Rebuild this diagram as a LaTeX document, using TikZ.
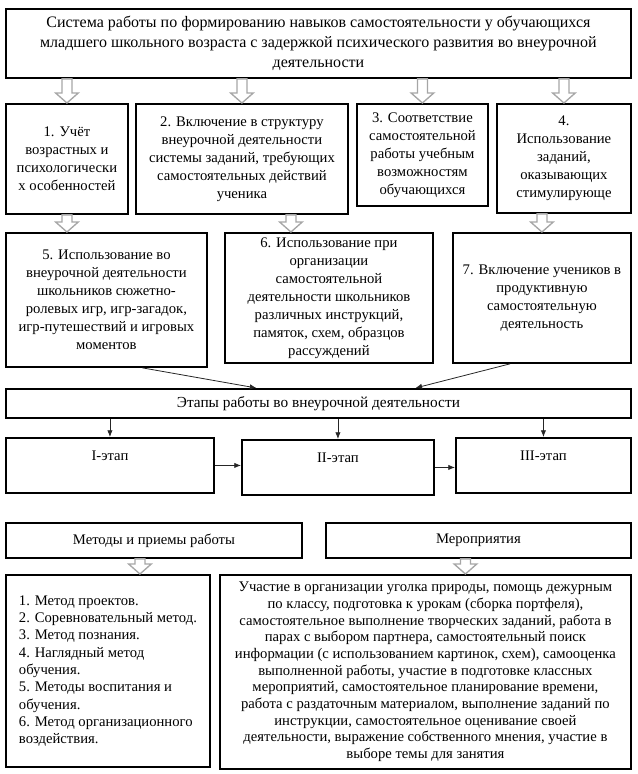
\documentclass[tikz,border=0pt]{standalone}
\usepackage{fontspec}
\setmainfont{Liberation Serif}
\usetikzlibrary{shapes,arrows,arrows.meta,positioning,calc}

\newcommand{\pxu}{0.75pt}
% полая стрелка вниз: #1 -- начало, #2 -- уровень острия
\newcommand{\hollowarrow}[2]{%
  \draw[hollow] let \p1=(#1), \p2=(#2) in
    (\x1-3.75pt,\y1) -- (\x1+3.75pt,\y1) -- (\x1+3.75pt,\y2+7.5pt)
    -- (\x1+8.5pt,\y2+7.5pt) -- (\x1,\y2) -- (\x1-8.5pt,\y2+7.5pt)
    -- (\x1-3.75pt,\y2+7.5pt) -- cycle;}

\begin{document}
\begin{tikzpicture}[x=0.75pt, y=-0.75pt,
    box/.style={draw, line width=1.4pt, anchor=north west, align=center, inner sep=2pt,
      font=\fontsize{11pt}{13.5pt}\selectfont},
    stagebox/.style={box, text height=8pt, text depth=15pt},
    hollow/.style={draw=gray!70, line width=1pt, fill=white},
    thin/.style={-{Latex[length=5pt,width=4pt]}, line width=0.6pt, draw=black!85}]

    \useasboundingbox (0,0) rectangle (638,774);

    % Блоки
    \node[box, minimum width={625*\pxu}, minimum height={69*\pxu},
      font=\fontsize{12pt}{15pt}\selectfont] (top) at (5,8)
      {Система работы по формированию навыков самостоятельности у обучающихся\\
       младшего школьного возраста с задержкой психического развития во внеурочной\\
       деятельности};

    \node[box, minimum width={122*\pxu}, minimum height={110*\pxu}] (b1) at (5,103)
      {1. Учёт\\ возрастных и\\ психологически\\ х особенностей};
    \node[box, minimum width={212*\pxu}, minimum height={110*\pxu}] (b2) at (135,103)
      {2. Включение в структуру\\ внеурочной деятельности\\ системы заданий, требующих\\
       самостоятельных действий\\ ученика};
    \node[box, minimum width={131*\pxu}, minimum height={102*\pxu}] (b3) at (356,103)
      {3. Соответствие\\ самостоятельной\\ работы учебным\\ возможностям\\ обучающихся};
    \node[box, minimum width={134*\pxu}, minimum height={109*\pxu}] (b4) at (496,103)
      {4.\\ Использование\\ заданий,\\ оказывающих\\ стимулирующе};

    \node[box, minimum width={201*\pxu}, minimum height={134*\pxu}] (b5) at (5,232)
      {5. Использование во\\ внеурочной деятельности\\ школьников сюжетно-\\
       ролевых игр, игр-загадок,\\ игр-путешествий и игровых\\ моментов};
    \node[box, minimum width={208*\pxu}, minimum height={130*\pxu}] (b6) at (224,232)
      {6. Использование при\\ организации\\ самостоятельной\\ деятельности школьников\\
       различных инструкций,\\ памяток, схем, образцов\\ рассуждений};
    \node[box, minimum width={178*\pxu}, minimum height={130*\pxu}] (b7) at (452,232)
      {7. Включение учеников в\\ продуктивную\\ самостоятельную\\ деятельность};

    \node[box, minimum width={625*\pxu}, minimum height={29*\pxu},
      font=\fontsize{11.5pt}{13.5pt}\selectfont] (stages) at (5,388)
      {Этапы работы во внеурочной деятельности};

    \node[stagebox, minimum width={208*\pxu}, minimum height={55*\pxu}] (s1) at (5,437) {I-этап};
    \node[stagebox, minimum width={192*\pxu}, minimum height={55*\pxu}] (s2) at (241,439) {II-этап};
    \node[stagebox, minimum width={175*\pxu}, minimum height={55*\pxu}] (s3) at (455,437) {III-этап};

    \node[box, minimum width={296*\pxu}, minimum height={35*\pxu}] (methods) at (5,522)
      {Методы и приемы работы};
    \node[box, minimum width={305*\pxu}, minimum height={35*\pxu}] (events) at (325,522)
      {Мероприятия};

    \node[box, align=left, minimum width={204*\pxu}, minimum height={192*\pxu},
      font=\fontsize{11pt}{13pt}\selectfont] (mlist) at (5,574)
      {1. Метод проектов.\\ 2. Соревновательный метод.\\ 3. Метод познания.\\
       4. Наглядный метод\\ обучения.\\ 5. Методы воспитания и\\ обучения.\\
       6. Метод организационного\\ воздействия.};
    \node[box, minimum width={411*\pxu}, minimum height={194*\pxu},
      font=\fontsize{11pt}{12.5pt}\selectfont] (elist) at (219,574)
      {Участие в организации уголка природы, помощь дежурным\\
       по классу, подготовка к урокам (сборка портфеля),\\
       самостоятельное выполнение творческих заданий, работа в\\
       парах с выбором партнера, самостоятельный поиск\\
       информации (с использованием картинок, схем), самооценка\\
       выполненной работы, участие в подготовке классных\\
       мероприятий, самостоятельное планирование времени,\\
       работа с раздаточным материалом, выполнение заданий по\\
       инструкции, самостоятельное оценивание своей\\
       деятельности, выражение собственного мнения, участие в\\
       выборе темы для занятия};

    % Полые стрелки
    \hollowarrow{top.south -| b1.north}{b1.north}
    \hollowarrow{top.south -| b2.north}{b2.north}
    \hollowarrow{top.south -| b3.north}{b3.north}
    \hollowarrow{top.south -| b4.north}{b4.north}
    \hollowarrow{b1.south}{b5.north}
    \hollowarrow{$(b2.south)+(49,0)$}{b6.north}
    \hollowarrow{b4.south -| b7.north}{b7.north}
    \hollowarrow{$(methods.south)+(-14,0)$}{mlist.north}
    \hollowarrow{$(events.south)+(-13,0)$}{elist.north}

    % Тонкие стрелки
    \draw[thin] ($(b5.south)+(36,0)$) -- ($(stages.north)+(-62,0)$);
    \draw[thin] ($(b7.south)+(-32,0)$) -- ($(stages.north)+(97,0)$);
    \draw[thin] (stages.south -| s1.north) -- (s1.north);
    \draw[thin] (stages.south -| s2.north) -- (s2.north);
    \draw[thin] (stages.south -| s3.north) -- (s3.north);
    \draw[thin] (s1.east) -- (s1.east -| s2.west);
    \draw[thin] (s2.east) -- (s2.east -| s3.west);
\end{tikzpicture}
\end{document}
